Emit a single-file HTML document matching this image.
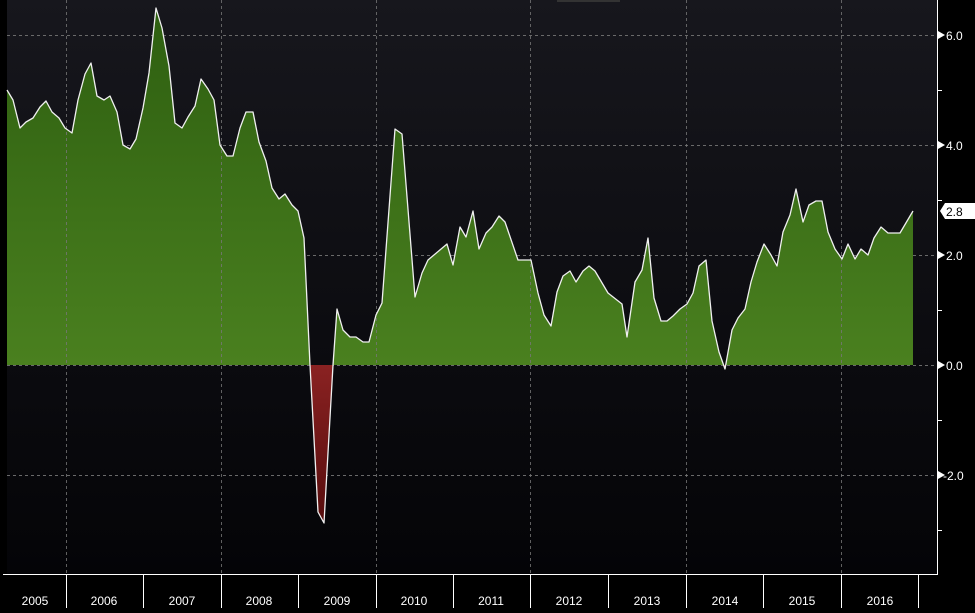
<!DOCTYPE html>
<html><head><meta charset="utf-8"><style>
html,body{margin:0;padding:0;background:#000;}
svg{display:block;}
text{font-family:"Liberation Sans",sans-serif;}
</style></head><body>
<svg width="975" height="613" viewBox="0 0 975 613" xmlns="http://www.w3.org/2000/svg">
<defs>
<linearGradient id="bg" x1="0" y1="0" x2="0" y2="1">
<stop offset="0" stop-color="#17171d"/><stop offset="1" stop-color="#040407"/></linearGradient>
<linearGradient id="gr" gradientUnits="userSpaceOnUse" x1="0" y1="0" x2="0" y2="365">
<stop offset="0" stop-color="#2d5e10"/><stop offset="1" stop-color="#4a801f"/></linearGradient>
<linearGradient id="rd" gradientUnits="userSpaceOnUse" x1="0" y1="365" x2="0" y2="525">
<stop offset="0" stop-color="#8a2222"/><stop offset="1" stop-color="#550c0c"/></linearGradient>
<clipPath id="pos"><rect x="0" y="0" width="937" height="365"/></clipPath>
<clipPath id="neg"><rect x="0" y="365" width="937" height="250"/></clipPath>
</defs>
<rect width="975" height="613" fill="#000"/>
<rect x="7" y="0" width="930" height="574" fill="url(#bg)"/>
<rect x="557" y="0" width="63" height="2" fill="#333"/>
<g stroke="#6a6a6a" stroke-width="1" stroke-dasharray="3,3">
<line x1="7" y1="35.5" x2="937" y2="35.5"/><line x1="7" y1="145.5" x2="937" y2="145.5"/>
<line x1="7" y1="255.5" x2="937" y2="255.5"/><line x1="7" y1="365.5" x2="937" y2="365.5"/>
<line x1="7" y1="475.5" x2="937" y2="475.5"/>
</g>
<g id="area">
<path id="p" d="M7,365 L7,90 L13,100 L20,128 L26,122 L33,118 L40,107 L46,101 L52,112 L59,118 L65,128 L72,133 L78,100 L85,74 L91,63 L97,96 L104,100 L110,96 L117,112 L123,145 L130,149 L136,139 L143,108 L149,73 L156,8 L162,28 L169,66 L175,123 L182,128 L188,117 L195,106 L201,79 L208,89 L214,100 L220,145 L227,156 L233,156 L240,128 L246,112 L253,112 L259,142 L266,161 L272,188 L279,199 L285,194 L292,205 L298,211 L304,238 L310,365 L318,512 L324,523 L333,365 L337,309 L343,330 L350,337 L356,337 L363,342 L369,342 L376,315 L382,303 L395,129 L402,134 L415,297 L422,273 L428,260 L447,244 L453,265 L460,227 L466,237 L473,211 L479,249 L486,233 L492,227 L499,216 L505,222 L518,260 L531,260 L538,293 L544,315 L551,326 L557,292 L563,276 L570,271 L576,282 L583,271 L589,266 L595,271 L608,293 L622,304 L627,337 L635,282 L642,270 L648,238 L654,298 L661,321 L667,321 L673,316 L680,309 L687,304 L693,293 L699,266 L706,260 L712,321 L719,352 L725,369 L732,330 L738,318 L745,309 L751,282 L757,262 L764,244 L771,255 L777,266 L783,232 L790,215 L796,189 L803,222 L809,205 L816,201 L822,201 L828,232 L835,249 L842,259 L848,244 L855,259 L861,249 L868,255 L874,238 L881,227 L888,233 L900,233 L913,211 L913,365 Z"/>
</g>
<use href="#p" fill="url(#gr)" clip-path="url(#pos)"/>
<use href="#p" fill="url(#rd)" clip-path="url(#neg)"/>
<g stroke="#777" stroke-width="1" stroke-dasharray="3,3" opacity="0.8">
<line x1="66.5" y1="0" x2="66.5" y2="574"/><line x1="221.5" y1="0" x2="221.5" y2="574"/>
<line x1="376.5" y1="0" x2="376.5" y2="574"/><line x1="530.5" y1="0" x2="530.5" y2="574"/>
<line x1="686.5" y1="0" x2="686.5" y2="574"/><line x1="841.5" y1="0" x2="841.5" y2="574"/>
</g>
<polyline fill="none" stroke="#f0f0f0" stroke-width="1.3" stroke-linejoin="round" points="7,90 13,100 20,128 26,122 33,118 40,107 46,101 52,112 59,118 65,128 72,133 78,100 85,74 91,63 97,96 104,100 110,96 117,112 123,145 130,149 136,139 143,108 149,73 156,8 162,28 169,66 175,123 182,128 188,117 195,106 201,79 208,89 214,100 220,145 227,156 233,156 240,128 246,112 253,112 259,142 266,161 272,188 279,199 285,194 292,205 298,211 304,238 310,365 318,512 324,523 333,365 337,309 343,330 350,337 356,337 363,342 369,342 376,315 382,303 395,129 402,134 415,297 422,273 428,260 447,244 453,265 460,227 466,237 473,211 479,249 486,233 492,227 499,216 505,222 518,260 531,260 538,293 544,315 551,326 557,292 563,276 570,271 576,282 583,271 589,266 595,271 608,293 622,304 627,337 635,282 642,270 648,238 654,298 661,321 667,321 673,316 680,309 687,304 693,293 699,266 706,260 712,321 719,352 725,369 732,330 738,318 745,309 751,282 757,262 764,244 771,255 777,266 783,232 790,215 796,189 803,222 809,205 816,201 822,201 828,232 835,249 842,259 848,244 855,259 861,249 868,255 874,238 881,227 888,233 900,233 913,211"/>
<!-- axes -->
<line x1="937.5" y1="0" x2="937.5" y2="575" stroke="#fff" stroke-width="1"/>
<line x1="3" y1="574.5" x2="938" y2="574.5" stroke="#fff" stroke-width="1"/>
<g stroke="#fff" stroke-width="1">
<line x1="937" y1="90.5" x2="942" y2="90.5"/><line x1="937" y1="200.5" x2="942" y2="200.5"/>
<line x1="937" y1="310.5" x2="942" y2="310.5"/><line x1="937" y1="420.5" x2="942" y2="420.5"/>
<line x1="937" y1="530.5" x2="942" y2="530.5"/>
<line x1="66.5" y1="575" x2="66.5" y2="608"/><line x1="143.5" y1="575" x2="143.5" y2="608"/>
<line x1="221.5" y1="575" x2="221.5" y2="608"/><line x1="298.5" y1="575" x2="298.5" y2="608"/>
<line x1="376.5" y1="575" x2="376.5" y2="608"/><line x1="453.5" y1="575" x2="453.5" y2="608"/>
<line x1="530.5" y1="575" x2="530.5" y2="608"/><line x1="608.5" y1="575" x2="608.5" y2="608"/>
<line x1="686.5" y1="575" x2="686.5" y2="608"/><line x1="763.5" y1="575" x2="763.5" y2="608"/>
<line x1="841.5" y1="575" x2="841.5" y2="608"/><line x1="918.5" y1="575" x2="918.5" y2="608"/>
</g>
<g fill="#fff">
<polygon points="938,31 945,35 938,39"/><polygon points="938,141 945,145 938,149"/>
<polygon points="938,251 945,255 938,259"/><polygon points="938,361 945,365 938,369"/>
<polygon points="938,471 945,475 938,479"/>
</g>
<g fill="#fff" font-size="12">
<text x="946" y="40">6.0</text><text x="946" y="150">4.0</text>
<text x="946" y="260">2.0</text><text x="946" y="370">0.0</text>
<text x="943" y="480">-2.0</text>
</g>
<polygon points="940,211 945,203 975,203 975,219 945,219" fill="#fff"/>
<text x="946" y="216" font-size="12" fill="#000">2.8</text>
<g fill="#fff" font-size="12" text-anchor="middle">
<text x="35" y="605">2005</text><text x="104" y="605">2006</text><text x="182" y="605">2007</text>
<text x="259" y="605">2008</text><text x="337" y="605">2009</text><text x="414" y="605">2010</text>
<text x="491" y="605">2011</text><text x="569" y="605">2012</text><text x="647" y="605">2013</text>
<text x="725" y="605">2014</text><text x="802" y="605">2015</text><text x="880" y="605">2016</text>
</g>
</svg>
</body></html>
